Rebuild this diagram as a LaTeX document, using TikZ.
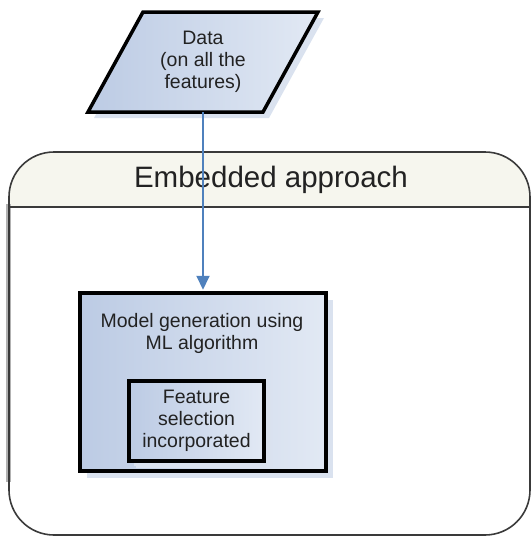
\documentclass[tikz,border=0pt]{standalone}
\usepackage{fontspec}
\setmainfont{Liberation Sans}
\usetikzlibrary{arrows.meta,shadows,calc}
\definecolor{boxblue}{RGB}{188,203,228}
\definecolor{boxlight}{RGB}{226,233,244}
\definecolor{shadowblue}{RGB}{218,226,239}
\definecolor{framegray}{RGB}{58,58,58}
\definecolor{headfill}{RGB}{246,246,238}
\definecolor{arrowblue}{RGB}{79,129,189}
\definecolor{txt}{RGB}{34,34,34}

\begin{document}
\begin{tikzpicture}[x=1pt,y=-1pt,
  lbl/.style={font=\fontsize{19.5}{22}\selectfont, text=txt, align=center, inner sep=0pt},
  blockbox/.style={draw=black, line width=3.5pt, left color=boxblue, right color=boxlight,
    drop shadow={shadow xshift=7pt, shadow yshift=-7pt, fill=shadowblue, opacity=1}},
  frameline/.style={draw=framegray, line width=1.6pt}]

\useasboundingbox (0,0) rectangle (531,536);

% container: header band and body
\fill[headfill] (9,207) [rounded corners=45pt] -- (9,152) -- (530,152) [sharp corners] -- (530,207) -- cycle;
\fill[gray!60] (6,204) rectangle (10.5,482);
\draw[frameline, rounded corners=45pt] (9,535) -- (9,152) -- (530,152) -- (530,535) -- cycle;
\draw[frameline] (9,207) -- (530,207);
\node[font=\fontsize{29.5}{34}\selectfont, text=txt] (title) at (271,180) {Embedded approach};

% input data (parallelogram)
\node[lbl, minimum width=175pt, minimum height=100pt] (data) at (203,62) {};
\fill[shadowblue] ($(data.center)+(-54,-44)$) -- ($(data.center)+(121,-44)$) -- ($(data.center)+(66,56)$) -- ($(data.center)+(-109,56)$) -- cycle;
\draw[line width=3.5pt, line join=miter, left color=boxblue, right color=boxlight]
  ($(data.center)+(-60,-50)$) -- ($(data.center)+(115,-50)$) -- ($(data.center)+(60,50)$) -- ($(data.center)+(-115,50)$) -- cycle;
\node[lbl] (datatxt) at (data.center) {Data\\(on all the\\features)};

% model generation block with embedded feature selection
\node[blockbox, minimum width=246pt, minimum height=178pt] (model) at (203,382) {};
\node[lbl] (modeltxt) at (202,333) {Model generation using\\ML algorithm};
\node[blockbox, lbl, line width=3.5pt, minimum width=135pt, minimum height=80pt,
  drop shadow={shadow xshift=5pt, shadow yshift=-5pt, fill=shadowblue, opacity=1}]
  (feature) at (196.5,421) {Feature\\selection\\incorporated};

% data flow
\draw[arrowblue, line width=2pt, shorten >=1.5pt, -{Triangle[width=13pt,length=14pt]}] (data.south) -- (model.north);
\end{tikzpicture}
\end{document}
